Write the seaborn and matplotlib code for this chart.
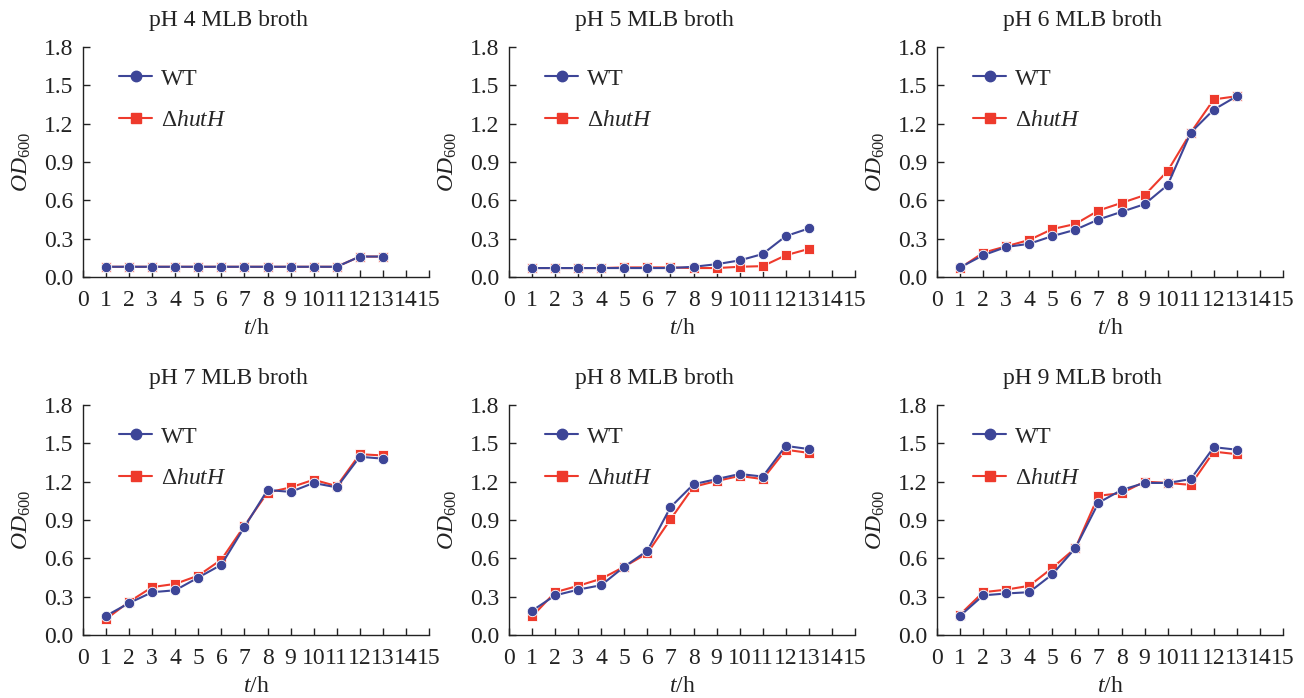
import numpy as np
import pandas as pd
import matplotlib
matplotlib.use("Agg")
import matplotlib.pyplot as plt
from matplotlib.lines import Line2D
import seaborn as sns

hours = list(range(1, 14))
titles = ["pH 4 MLB broth", "pH 5 MLB broth", "pH 6 MLB broth",
          "pH 7 MLB broth", "pH 8 MLB broth", "pH 9 MLB broth"]
series_names = ["WT", r"$\Delta\mathit{hutH}$"]

wt_ph4 = [0.08, 0.08, 0.08, 0.08, 0.08, 0.08, 0.08, 0.08, 0.08, 0.08, 0.08, 0.16, 0.16]
hut_ph4 = [0.08, 0.08, 0.08, 0.08, 0.08, 0.08, 0.08, 0.08, 0.08, 0.08, 0.08, 0.16, 0.16]
wt_ph5 = [0.07, 0.07, 0.07, 0.07, 0.07, 0.07, 0.07, 0.08, 0.10, 0.13, 0.18, 0.32, 0.38]
hut_ph5 = [0.07, 0.07, 0.07, 0.07, 0.075, 0.075, 0.075, 0.07, 0.07, 0.08, 0.085, 0.17, 0.22]
wt_ph6 = [0.075, 0.17, 0.235, 0.26, 0.32, 0.37, 0.45, 0.51, 0.57, 0.72, 1.13, 1.31, 1.415]
hut_ph6 = [0.07, 0.19, 0.24, 0.29, 0.375, 0.415, 0.52, 0.58, 0.64, 0.83, 1.13, 1.39, 1.415]
wt_ph7 = [0.15, 0.25, 0.335, 0.35, 0.45, 0.55, 0.845, 1.135, 1.12, 1.19, 1.155, 1.395, 1.38]
hut_ph7 = [0.125, 0.26, 0.375, 0.40, 0.465, 0.59, 0.855, 1.115, 1.155, 1.215, 1.165, 1.415, 1.405]
wt_ph8 = [0.19, 0.31, 0.355, 0.39, 0.535, 0.66, 1.00, 1.18, 1.22, 1.26, 1.24, 1.48, 1.455]
hut_ph8 = [0.145, 0.335, 0.385, 0.44, 0.535, 0.64, 0.905, 1.16, 1.205, 1.245, 1.22, 1.45, 1.425]
wt_ph9 = [0.15, 0.31, 0.325, 0.335, 0.475, 0.68, 1.035, 1.135, 1.19, 1.19, 1.22, 1.47, 1.45]
hut_ph9 = [0.16, 0.335, 0.355, 0.385, 0.525, 0.68, 1.09, 1.11, 1.20, 1.19, 1.175, 1.435, 1.415]

wt_all = [wt_ph4, wt_ph5, wt_ph6, wt_ph7, wt_ph8, wt_ph9]
hut_all = [hut_ph4, hut_ph5, hut_ph6, hut_ph7, hut_ph8, hut_ph9]

x_ticks = list(range(0, 16))
y_ticks = [0.0, 0.3, 0.6, 0.9, 1.2, 1.5, 1.8]

sns.set_theme(style="ticks")
plt.rcParams["font.family"] = ["Liberation Serif", "DejaVu Serif"]
plt.rcParams["mathtext.fontset"] = "custom"
plt.rcParams["mathtext.rm"] = "Liberation Serif"
plt.rcParams["mathtext.it"] = "Liberation Serif:italic"
plt.rcParams["mathtext.bf"] = "Liberation Serif:bold"

blue = "#3D4597"
red = "#EE3A2C"
ink = "#222222"

fig = plt.figure(figsize=(13.04, 6.98), dpi=100)
W, H = 1304, 698
lefts = [83, 509, 937]
tops = [47, 405]
aw, ah = 346, 230
ms = 7.5
lw = 1.5

for i in range(6):
    r, c = divmod(i, 3)
    x0 = lefts[c]
    y0 = tops[r]
    ax = fig.add_axes([x0 / W, 1 - (y0 + ah) / H, aw / W, ah / H])
    df = pd.DataFrame({
        "t": hours * 2,
        "od": hut_all[i] + wt_all[i],
        "strain": [series_names[1]] * 13 + [series_names[0]] * 13,
    })
    sns.lineplot(data=df, x="t", y="od", hue="strain", style="strain",
                 hue_order=series_names[::-1], style_order=series_names[::-1],
                 palette={series_names[0]: blue, series_names[1]: red},
                 markers={series_names[0]: "o", series_names[1]: "s"},
                 dashes=False, markersize=ms, markeredgewidth=0.6,
                 linewidth=lw, ax=ax, legend=False)
    ax.set_xlim(0, 15)
    ax.set_ylim(0, 1.8)
    ax.set_xticks(x_ticks)
    ax.set_xticklabels([str(v) for v in x_ticks])
    ax.set_yticks(y_ticks)
    ax.set_yticklabels([f"{v:.1f}" for v in y_ticks])
    ax.tick_params(direction="in", length=5, width=1, labelsize=17,
                   colors=ink)
    ax.tick_params(axis="x", pad=9.5)
    ax.tick_params(axis="y", pad=7)
    for s in ["top", "right"]:
        ax.spines[s].set_visible(False)
    for s in ["left", "bottom"]:
        ax.spines[s].set_linewidth(1)
        ax.spines[s].set_color(ink)
    ax.set_title(titles[i], fontsize=17, pad=15, color=ink, x=0.42)
    ax.set_xlabel(r"$\mathit{t}$/h", fontsize=17, labelpad=5, color=ink)
    ax.set_ylabel(r"$\mathit{OD}_{600}$", fontsize=17, labelpad=8, color=ink)
    handles = [Line2D([], [], color=blue, marker="o", markersize=ms, linewidth=lw),
               Line2D([], [], color=red, marker="s", markersize=ms, linewidth=lw)]
    ax.legend(handles, series_names, loc="upper left", bbox_to_anchor=(0.105, 0.908),
              frameon=False, fontsize=17, handlelength=1.4, handletextpad=0.35,
              labelspacing=0.83, borderaxespad=0, borderpad=0)

fig.savefig("out.png", dpi=100)
